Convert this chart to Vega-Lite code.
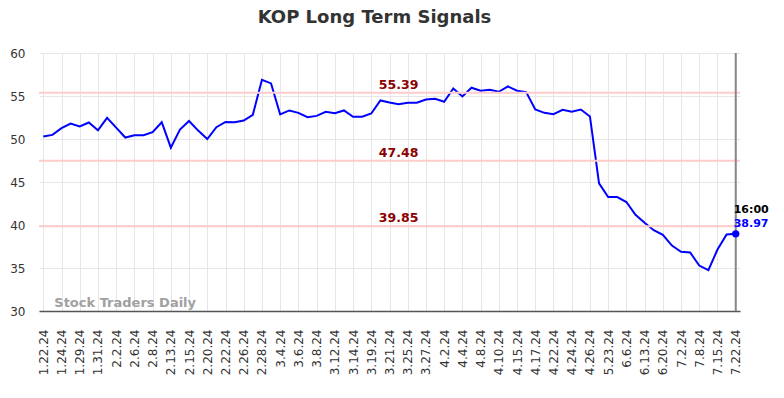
{
  "$schema": "https://vega.github.io/schema/vega-lite/v6.json",
  "autosize": "none",
  "width": 701,
  "height": 258,
  "padding": {"left": 39, "top": 53, "right": 44, "bottom": 87},
  "background": "white",
  "config": {
    "font": "DejaVu Sans",
    "view": {"stroke": null},
    "axis": {"gridColor": "#e6e6e6", "gridWidth": 1, "labelColor": "#333333", "labelFontSize": 12, "ticks": false, "labelOverlap": false, "title": null},
    "axisX": {"labelAngle": -90, "labelAlign": "right", "labelBaseline": "middle", "labelPadding": 18, "domain": true, "domainColor": "#555555", "domainWidth": 1.5, "labelFlush": false, "labelOverlap": false},
    "axisY": {"domain": false, "labelPadding": 14}
  },
  "title": {"text": "KOP Long Term Signals", "fontSize": 18, "fontWeight": "bold", "color": "#333333", "anchor": "middle", "dx": -15, "offset": 20},
  "datasets": {
    "series": [
      {"i": 0, "date": "1.22.24", "v": 50.28}, {"i": 1, "v": 50.48}, {"i": 2, "date": "1.24.24", "v": 51.26}, {"i": 3, "v": 51.8},
      {"i": 4, "date": "1.29.24", "v": 51.45}, {"i": 5, "v": 51.92}, {"i": 6, "date": "1.31.24", "v": 51.02}, {"i": 7, "v": 52.46},
      {"i": 8, "date": "2.2.24", "v": 51.33}, {"i": 9, "v": 50.17}, {"i": 10, "date": "2.6.24", "v": 50.44}, {"i": 11, "v": 50.44},
      {"i": 12, "date": "2.8.24", "v": 50.79}, {"i": 13, "v": 51.95}, {"i": 14, "date": "2.13.24", "v": 49.0}, {"i": 15, "v": 51.1},
      {"i": 16, "date": "2.15.24", "v": 52.1}, {"i": 17, "v": 50.98}, {"i": 18, "date": "2.20.24", "v": 50.0}, {"i": 19, "v": 51.37},
      {"i": 20, "date": "2.22.24", "v": 51.99}, {"i": 21, "v": 51.95}, {"i": 22, "date": "2.26.24", "v": 52.15}, {"i": 23, "v": 52.81},
      {"i": 24, "date": "2.28.24", "v": 56.89}, {"i": 25, "v": 56.46}, {"i": 26, "date": "3.4.24", "v": 52.85}, {"i": 27, "v": 53.32},
      {"i": 28, "date": "3.6.24", "v": 53.04}, {"i": 29, "v": 52.54}, {"i": 30, "date": "3.8.24", "v": 52.69}, {"i": 31, "v": 53.16},
      {"i": 32, "date": "3.12.24", "v": 53.0}, {"i": 33, "v": 53.32}, {"i": 34, "date": "3.14.24", "v": 52.58}, {"i": 35, "v": 52.58},
      {"i": 36, "date": "3.19.24", "v": 52.97}, {"i": 37, "v": 54.48}, {"i": 38, "date": "3.21.24", "v": 54.25}, {"i": 39, "v": 54.05},
      {"i": 40, "date": "3.25.24", "v": 54.21}, {"i": 41, "v": 54.21}, {"i": 42, "date": "3.27.24", "v": 54.6}, {"i": 43, "v": 54.68},
      {"i": 44, "date": "4.2.24", "v": 54.33}, {"i": 45, "v": 55.88}, {"i": 46, "date": "4.4.24", "v": 54.95}, {"i": 47, "v": 55.96},
      {"i": 48, "date": "4.8.24", "v": 55.61}, {"i": 49, "v": 55.72}, {"i": 50, "date": "4.10.24", "v": 55.49}, {"i": 51, "v": 56.11},
      {"i": 52, "date": "4.15.24", "v": 55.61}, {"i": 53, "v": 55.45}, {"i": 54, "date": "4.17.24", "v": 53.43}, {"i": 55, "v": 53.04},
      {"i": 56, "date": "4.22.24", "v": 52.89}, {"i": 57, "v": 53.39}, {"i": 58, "date": "4.24.24", "v": 53.16}, {"i": 59, "v": 53.43},
      {"i": 60, "date": "4.26.24", "v": 52.62}, {"i": 61, "v": 44.84}, {"i": 62, "date": "5.23.24", "v": 43.25}, {"i": 63, "v": 43.25},
      {"i": 64, "date": "6.6.24", "v": 42.67}, {"i": 65, "v": 41.19}, {"i": 66, "date": "6.13.24", "v": 40.26}, {"i": 67, "v": 39.4},
      {"i": 68, "date": "6.20.24", "v": 38.86}, {"i": 69, "v": 37.61}, {"i": 70, "date": "7.2.24", "v": 36.88}, {"i": 71, "v": 36.8},
      {"i": 72, "date": "7.8.24", "v": 35.28}, {"i": 73, "v": 34.74}, {"i": 74, "date": "7.15.24", "v": 37.15}, {"i": 75, "v": 38.9},
      {"i": 76, "date": "7.22.24", "v": 38.97, "time": "16:00"}
    ],
    "levels": [{"level": 55.39}, {"level": 47.48}, {"level": 39.85}],
    "wm": [{"text": "Stock Traders Daily"}]
  },
  "layer": [
    {
      "data": {"name": "series"},
      "mark": {"type": "line", "color": "#0000ff", "strokeWidth": 2},
      "encoding": {
        "x": {
          "field": "i", "type": "quantitative",
          "scale": {"domain": [-0.47, 76.47], "nice": false, "zero": false},
          "axis": {
            "values": [0,2,4,6,8,10,12,14,16,18,20,22,24,26,28,30,32,34,36,38,40,42,44,46,48,50,52,54,56,58,60,62,64,66,68,70,72,74,76],
            "tickCount": 100,
            "labelExpr": "['1.22.24','1.24.24','1.29.24','1.31.24','2.2.24','2.6.24','2.8.24','2.13.24','2.15.24','2.20.24','2.22.24','2.26.24','2.28.24','3.4.24','3.6.24','3.8.24','3.12.24','3.14.24','3.19.24','3.21.24','3.25.24','3.27.24','4.2.24','4.4.24','4.8.24','4.10.24','4.15.24','4.17.24','4.22.24','4.24.24','4.26.24','5.23.24','6.6.24','6.13.24','6.20.24','7.2.24','7.8.24','7.15.24','7.22.24'][round(datum.value/2)]",
            "labelOverlap": false
          }
        },
        "y": {
          "field": "v", "type": "quantitative",
          "scale": {"domain": [30, 60], "nice": false, "zero": false},
          "axis": {"values": [30, 35, 40, 45, 50, 55, 60], "tickCount": 7}
        }
      }
    },
    {
      "data": {"name": "levels"},
      "mark": {"type": "rule", "color": "#ffcccc", "strokeWidth": 2},
      "encoding": {"y": {"field": "level", "type": "quantitative"}}
    },
    {
      "data": {"name": "levels"},
      "mark": {"type": "text", "color": "#8b0000", "fontWeight": "bold", "fontSize": 12.5, "align": "center", "baseline": "alphabetic", "dy": -4},
      "encoding": {
        "x": {"datum": 39, "type": "quantitative"},
        "y": {"field": "level", "type": "quantitative"},
        "text": {"field": "level", "type": "quantitative", "format": ".2f"}
      }
    },
    {
      "data": {"name": "series"},
      "transform": [{"filter": "datum.i == 76"}],
      "mark": {"type": "rule", "color": "#888888", "strokeWidth": 2},
      "encoding": {"x": {"field": "i", "type": "quantitative"}}
    },
    {
      "data": {"name": "series"},
      "transform": [{"filter": "datum.i == 76"}],
      "mark": {"type": "point", "filled": true, "color": "#0000ff", "size": 55, "opacity": 1},
      "encoding": {
        "x": {"field": "i", "type": "quantitative"},
        "y": {"field": "v", "type": "quantitative"}
      }
    },
    {
      "data": {"name": "series"},
      "transform": [{"filter": "datum.i == 76"}],
      "mark": {"type": "text", "color": "#000000", "fontWeight": "bold", "fontSize": 11, "align": "left", "baseline": "alphabetic", "dx": -2, "dy": -21},
      "encoding": {
        "x": {"field": "i", "type": "quantitative"},
        "y": {"field": "v", "type": "quantitative"},
        "text": {"field": "time"}
      }
    },
    {
      "data": {"name": "series"},
      "transform": [{"filter": "datum.i == 76"}],
      "mark": {"type": "text", "color": "#0000ff", "fontWeight": "bold", "fontSize": 11, "align": "left", "baseline": "alphabetic", "dx": -2, "dy": -7},
      "encoding": {
        "x": {"field": "i", "type": "quantitative"},
        "y": {"field": "v", "type": "quantitative"},
        "text": {"field": "v", "type": "quantitative", "format": ".2f"}
      }
    },
    {
      "data": {"name": "wm"},
      "mark": {"type": "text", "color": "#a0a0a0", "fontWeight": "bold", "fontSize": 13, "align": "left", "baseline": "alphabetic", "dx": 11, "dy": -4},
      "encoding": {
        "x": {"datum": 0, "type": "quantitative"},
        "y": {"datum": 30, "type": "quantitative"},
        "text": {"field": "text"}
      }
    }
  ]
}
